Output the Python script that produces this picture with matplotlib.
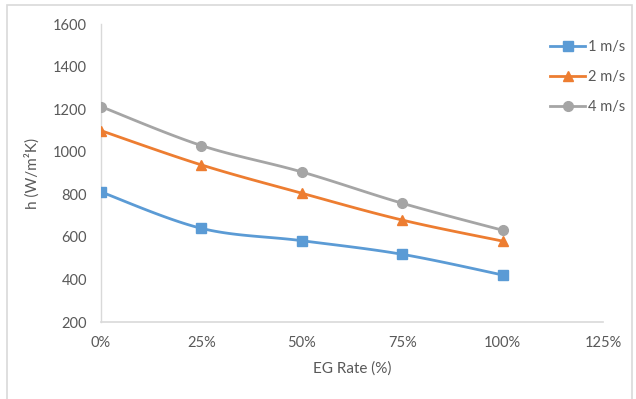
import matplotlib.pyplot as plt
import numpy as np
from matplotlib.patches import Rectangle

plt.rcParams['font.family'] = ['Lato', 'DejaVu Sans']

eg_rate = [0, 25, 50, 75, 100]
h_1ms = [811, 640, 582, 518, 421]
h_2ms = [1099, 938, 805, 679, 580]
h_4ms = [1212, 1029, 905, 758, 631]
labels = ['1 m/s', '2 m/s', '4 m/s']

colors = ['#5B9BD5', '#ED7D31', '#A5A5A5']
markers = ['s', '^', 'o']
text_col = '#595959'


# excel-ish smoothed line (catmull-rom bezier)
def smooth(x, y, n=30):
    x = np.asarray(x, float)
    y = np.asarray(y, float)
    px = np.concatenate([[x[0]], x, [x[-1]]])
    py = np.concatenate([[y[0]], y, [y[-1]]])
    xs, ys = [], []
    t = np.linspace(0, 1, n)
    for i in range(1, len(px) - 2):
        p0 = np.array([px[i], py[i]])
        p3 = np.array([px[i + 1], py[i + 1]])
        c1 = p0 + (np.array([px[i + 1], py[i + 1]]) - np.array([px[i - 1], py[i - 1]])) / 6
        c2 = p3 - (np.array([px[i + 2], py[i + 2]]) - np.array([px[i], py[i]])) / 6
        b = ((1 - t) ** 3)[:, None] * p0 + (3 * (1 - t) ** 2 * t)[:, None] * c1 \
            + (3 * (1 - t) * t ** 2)[:, None] * c2 + (t ** 3)[:, None] * p3
        xs.extend(b[:, 0])
        ys.extend(b[:, 1])
    return xs, ys


fig = plt.figure(figsize=(6.36, 3.99), dpi=100)
ax = fig.add_axes([101 / 636, 1 - 322 / 399, 502 / 636, 298 / 399])

for vals, c, m, lab in zip([h_1ms, h_2ms, h_4ms], colors, markers, labels):
    sx, sy = smooth(eg_rate, vals)
    ax.plot(sx, sy, color=c, lw=2, zorder=3)
    ax.plot(eg_rate, vals, ls='none', marker=m, color=c, ms=7, zorder=4)
    ax.plot([], [], color=c, lw=2, marker=m, ms=7, label=lab)

ax.set_xlim(0, 125)
ax.set_ylim(200, 1600)
ax.set_xticks([0, 25, 50, 75, 100, 125])
ax.set_xticklabels(['0%', '25%', '50%', '75%', '100%', '125%'])
ax.set_yticks(range(200, 1601, 200))

for s in ['top', 'right']:
    ax.spines[s].set_visible(False)
ax.spines['left'].set_color('#D9D9D9')
ax.spines['bottom'].set_color('#D9D9D9')
ax.spines['left'].set_linewidth(1)
ax.spines['bottom'].set_linewidth(1.2)
ax.tick_params(length=0, labelsize=10.5, colors=text_col, pad=10)

ax.set_xlabel('EG Rate (%)', fontsize=11, color=text_col, labelpad=8)
ax.set_ylabel('h (W/m²K)', fontsize=11, color=text_col, labelpad=10)

leg = ax.legend(loc='upper left', bbox_to_anchor=(537 / 636, 1 - 27 / 399),
                bbox_transform=fig.transFigure, frameon=False, fontsize=10.5,
                labelcolor=text_col, handlelength=2.4, handletextpad=0.2,
                labelspacing=1.1)

fig.patches.append(Rectangle((7 / 636, -0.05), 625 / 636, 1.05 - 5 / 399,
                             transform=fig.transFigure, fill=False,
                             edgecolor='#D9D9D9', lw=1.2))

fig.savefig('out.png', dpi=100)
